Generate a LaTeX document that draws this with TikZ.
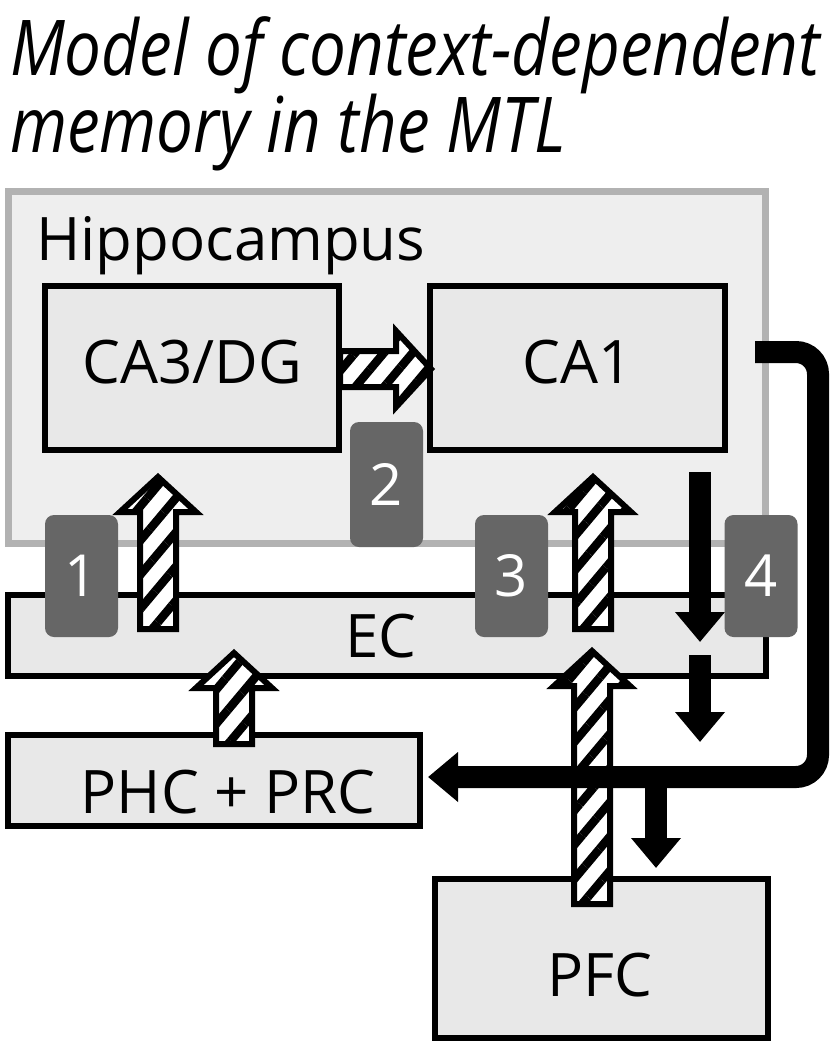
\documentclass[tikz,border=0pt]{standalone}
\usepackage{fontspec}
\setmainfont{Open Sans}
\newfontfamily\titlefont[FakeStretch=0.85]{Open Sans}
\usetikzlibrary{arrows.meta,patterns.meta,positioning,calc}

\definecolor{hipfill}{gray}{0.935}
\definecolor{hipline}{gray}{0.70}
\definecolor{boxfill}{gray}{0.91}
\definecolor{badgegray}{gray}{0.40}

\tikzset{
  ttl/.style={font=\titlefont\itshape\fontsize{77}{80}\selectfont, inner sep=0pt},
  lbl/.style={font=\fontsize{60}{72}\selectfont, inner sep=0pt, text height=43pt, text depth=0pt},
  hip/.style={draw=hipline, line width=7pt, fill=hipfill, inner sep=0pt},
  region/.style={draw=black, line width=6pt, fill=boxfill, inner sep=0pt},
  badge/.style={fill=badgegray, rounded corners=9pt, inner sep=0pt,
    minimum width=73pt, minimum height=122pt, text=white,
    font=\fontsize{58}{60}\selectfont},
  hatch/.style={draw=black, line width=6pt, line join=miter,
    preaction={fill=white}, pattern color=black,
    pattern={Lines[angle=50,distance=22pt,line width=8.5pt]}},
  blk/.style={line width=22pt, -{Triangle[width=48pt,length=30pt]}},
}

% hatched block arrow going up, from #1 (tail) to #2 (tip)
\newcommand{\hatchup}[2]{%
  \draw[hatch] let \p1=(#1), \p2=(#2) in
    (\x1-18pt,\y1) -- (\x1-18pt,\y2-35pt) -- (\x1-38pt,\y2-35pt) -- (\x1,\y2)
    -- (\x1+38pt,\y2-35pt) -- (\x1+18pt,\y2-35pt) -- (\x1+18pt,\y1) -- cycle;}
% hatched block arrow going right
\newcommand{\hatchright}[2]{%
  \draw[hatch] let \p1=(#1), \p2=(#2) in
    (\x1,\y1+18pt) -- (\x2-35pt,\y1+18pt) -- (\x2-35pt,\y1+38pt) -- (\x2,\y1)
    -- (\x2-35pt,\y1-38pt) -- (\x2-35pt,\y1-18pt) -- (\x1,\y1-18pt) -- cycle;}

\begin{document}
\begin{tikzpicture}[x=1pt, y=-1pt]
\useasboundingbox (0,0) rectangle (832,1050);

% title
\node[ttl, anchor=base west] (title1) at (10,75) {Model of context-dependent};
\node[ttl, anchor=base west] (title2) at (10,152) {memory in the MTL};

% hippocampus with CA3/DG and CA1
\node[hip, minimum width=757pt, minimum height=352pt] (hip) at (386.5,367) {};
\node[lbl, anchor=base west] (hiplbl) at (36,260) {Hippocampus};
\node[region, minimum width=294pt, minimum height=164pt] (ca3) at (192,368) {};
\node[region, minimum width=295pt, minimum height=164pt] (ca1) at (577.5,368) {};
\node[lbl] (ca3lbl) at (ca3.center) [yshift=6pt] {CA3/DG};
\node[lbl] (ca1lbl) at (ca1.center) [yshift=6pt] {CA1};

% cortical boxes
\node[region, minimum width=758pt, minimum height=81pt] (ec) at (387,635.5) {};
\node[lbl] (eclbl) at (381,636) {EC};
\node[region, minimum width=412pt, minimum height=91pt] (phc) at (214,780.5) {};
\node[lbl] (phclbl) at (228,792) {PHC + PRC};
\node[region, minimum width=333pt, minimum height=159pt] (pfc) at (601.5,958.5) {};
\node[lbl] (pfclbl) at (600,975) {PFC};

% arrow ends
\coordinate (ec1) at (158,629);   \coordinate (ca3in) at (158,477);
\coordinate (ec3) at (593,629);   \coordinate (ca1in) at (593,477);
\coordinate (phcout) at (234,744); \coordinate (ecin1) at (234,653);
\coordinate (pfcout) at (592,904); \coordinate (ecin2) at (592,651);
\coordinate (ca3out) at (340,369); \coordinate (ca1in2) at (431,369);
\coordinate (ca1down) at (700,472); \coordinate (ecdown) at (700,642);
\coordinate (ecout) at (700,655);  \coordinate (ecend) at (700,742);
\coordinate (ca1out) at (755,352); \coordinate (hub) at (818,777);
\coordinate (phcin) at (428,777);  \coordinate (fork) at (656,777);
\coordinate (pfcin) at (656,868);

% hatched pathways
\hatchright{ca3out}{ca1in2}
\hatchup{ec1}{ca3in}
\hatchup{ec3}{ca1in}
\hatchup{phcout}{ecin1}
\hatchup{pfcout}{ecin2}

% solid output pathways
\draw[blk] (ca1down) -- (ecdown);
\draw[blk] (ecout) -- (ecend);
\draw[blk, rounded corners=22pt] (ca1out) -| (hub) -- (phcin);
\draw[blk] (fork) -- (pfcin);

% numbered tags
\node[badge] (b1) at (81.5,576) {1};
\node[badge, minimum height=125pt] (b2) at (386.5,484.5) {2};
\node[badge] (b3) at (511.5,576) {3};
\node[badge] (b4) at (761,576) {4};
\end{tikzpicture}
\end{document}
